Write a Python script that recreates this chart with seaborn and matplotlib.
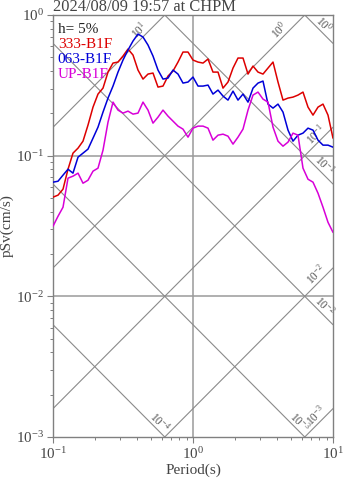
import numpy as np
import pandas as pd
import matplotlib
matplotlib.use("Agg")
import matplotlib.pyplot as plt
from matplotlib.ticker import LogLocator, NullFormatter
import seaborn as sns

# Natural periods (s)
period = [0.100, 0.1086, 0.1179, 0.1280, 0.1389, 0.1509, 0.1638, 0.1778, 0.1931, 0.2096,
          0.2276, 0.2471, 0.2683, 0.2913, 0.3162, 0.3433, 0.3728, 0.4047, 0.4394, 0.4771,
          0.5179, 0.5623, 0.6105, 0.6629, 0.7197, 0.7814, 0.8483, 0.9211, 1.000, 1.086,
          1.179, 1.280, 1.389, 1.509, 1.638, 1.778, 1.931, 2.096, 2.276, 2.471,
          2.683, 2.913, 3.162, 3.433, 3.728, 4.047, 4.394, 4.771, 5.179, 5.623,
          6.105, 6.629, 7.197, 7.814, 8.483, 9.211, 10.00]

# Pseudo velocity response (cm/s), damping 5 %
sv_333 = [0.0507, 0.0524, 0.0578, 0.0801, 0.1042, 0.1131, 0.1268, 0.1649, 0.2214, 0.2741,
          0.3022, 0.3928, 0.4553, 0.4628, 0.5107, 0.5728, 0.5191, 0.4060, 0.3503, 0.3803,
          0.3866, 0.3073, 0.3124, 0.3679, 0.3996, 0.4628, 0.5452, 0.5452, 0.4783, 0.4628,
          0.4553, 0.4862, 0.3928, 0.3928, 0.3022, 0.3337, 0.4196, 0.4943, 0.4943, 0.3803,
          0.4335, 0.3928, 0.3803, 0.4196, 0.4628, 0.3337, 0.2483, 0.2566, 0.2608, 0.2696,
          0.2831, 0.2214, 0.1942, 0.2214, 0.2326, 0.1942, 0.1332]

sv_063 = [0.0648, 0.0658, 0.0727, 0.0801, 0.0751, 0.0976, 0.1042, 0.1113, 0.1332, 0.1595,
          0.2040, 0.2566, 0.3124, 0.3928, 0.4783, 0.5636, 0.6531, 0.7323, 0.6972, 0.6115,
          0.5107, 0.4060, 0.3503, 0.3561, 0.4060, 0.3803, 0.3281, 0.3337, 0.3620, 0.3124,
          0.3124, 0.3175, 0.2741, 0.2925, 0.2652, 0.2483, 0.2877, 0.2483, 0.2741, 0.2403,
          0.3022, 0.3281, 0.3391, 0.2326, 0.2178, 0.2326, 0.2040, 0.1519, 0.1268, 0.1399,
          0.1446, 0.1569, 0.1519, 0.1289, 0.1188, 0.1188, 0.1149]

sv_up = [0.0315, 0.0371, 0.0430, 0.0692, 0.0715, 0.0751, 0.0637, 0.0669, 0.0776, 0.0815,
         0.1094, 0.1731, 0.2403, 0.2108, 0.2007, 0.2073, 0.1974, 0.2007, 0.2403, 0.2108,
         0.1703, 0.1879, 0.2108, 0.1910, 0.1760, 0.1622, 0.1544, 0.1354, 0.1569, 0.1622,
         0.1622, 0.1569, 0.1289, 0.1399, 0.1422, 0.1376, 0.1208, 0.1354, 0.1544, 0.2108,
         0.2696, 0.2831, 0.2524, 0.2403, 0.1595, 0.1268, 0.1168, 0.1248, 0.1446, 0.1399,
         0.0815, 0.0680, 0.0648, 0.0541, 0.0430, 0.0336, 0.0285]

components = ["333-B1F", "063-B1F", "UP-B1F"]
component_colors = ["#dd0000", "#0000d8", "#d800d8"]

# Tripartite reference levels
disp_levels = [1e-4, 1e-3, 1e-2, 1e-1, 1e0]   # displacement (cm)
acc_levels = [1e-3, 1e-2, 1e-1, 1e0, 1e1]     # acceleration (cm/s^2)

title_text = "2024/08/09 19:57 at CHPM"
damping_text = "h= 5%"

sns.set_theme(style="ticks")
plt.rcParams["font.family"] = ["Liberation Serif", "DejaVu Serif"]
plt.rcParams["mathtext.fontset"] = "custom"
plt.rcParams["mathtext.rm"] = "Liberation Serif"
plt.rcParams["mathtext.it"] = "Liberation Serif:italic"
plt.rcParams["mathtext.bf"] = "Liberation Serif:bold"

text_color = "#444444"
frame_color = "#808080"
diag_color = "#8a8a8a"

df = pd.DataFrame({
    "period": period * 3,
    "psv": sv_333 + sv_063 + sv_up,
    "component": np.repeat(components, len(period)),
})

fig = plt.figure(figsize=(3.47, 4.78), dpi=100)
ax = fig.add_axes([53 / 347, 41 / 478, 280 / 347, 422 / 478])
ax.set_xscale("log")
ax.set_yscale("log")
x_min, x_max, y_min, y_max = 0.1, 10.0, 1e-3, 1.0
ax.set_xlim(x_min, x_max)
ax.set_ylim(y_min, y_max)

# grid lines at decades
ax.axvline(1.0, color="#9a9a9a", lw=1.1, zorder=1)
for yv in (0.1, 0.01):
    ax.axhline(yv, color="#9a9a9a", lw=1.1, zorder=1)

two_pi = 2 * np.pi
t_ends = np.array([x_min, x_max])
px_per_decade = 140.0
lab_size = 8.3

# constant displacement lines: Sv = 2*pi*D/T
for d in disp_levels:
    ax.plot(t_ends, two_pi * d / t_ends, color=diag_color, lw=0.8, zorder=1)
    sv_right = two_pi * d / x_max
    if sv_right >= y_min:
        t_lab = x_max * 10 ** (-14 / px_per_decade)
    else:
        t_lab = (two_pi * d / y_min) * 10 ** (-10 / px_per_decade)
    exp = int(round(np.log10(d)))
    ax.text(t_lab, two_pi * d / t_lab, r"$\mathdefault{10^{%d}}$" % exp,
            rotation=-45, rotation_mode="anchor", ha="center", va="bottom",
            fontsize=lab_size, color="#555555", zorder=2)

# constant acceleration lines: Sv = A*T/(2*pi)
for a in acc_levels:
    ax.plot(t_ends, a * t_ends / two_pi, color=diag_color, lw=0.8, zorder=1)
    sv_right = a * x_max / two_pi
    if sv_right <= y_max:
        t_lab = x_max * 10 ** (-12 / px_per_decade)
    else:
        t_lab = (two_pi * y_max / a) * 10 ** (-20 / px_per_decade)
    exp = int(round(np.log10(a)))
    ax.text(t_lab, a * t_lab / two_pi, r"$\mathdefault{10^{%d}}$" % exp,
            rotation=45, rotation_mode="anchor", ha="center", va="bottom",
            fontsize=lab_size, color="#555555", zorder=2)

sns.lineplot(data=df, x="period", y="psv", hue="component", hue_order=components,
             palette=dict(zip(components, component_colors)), estimator=None,
             lw=1.1, legend=False, ax=ax, zorder=3)

# legend block as coloured text
ax.text(0.017, 0.965, damping_text, transform=ax.transAxes, fontsize=11,
        color="#222222", va="center", ha="left")
for i, (name, col) in enumerate(zip(components, component_colors)):
    ax.text(0.017, 0.965 - (i + 1) * 0.0355, name, transform=ax.transAxes,
            fontsize=11, color=col, va="center", ha="left")

ax.set_title(title_text, loc="left", fontsize=11.8, color=text_color, pad=2)
ax.set_xlabel("Period(s)", fontsize=11, color=text_color, labelpad=1)
ax.set_ylabel("pSv(cm/s)", fontsize=11, color=text_color, labelpad=2)

ax.yaxis.set_major_locator(LogLocator(base=10, numticks=10))
ax.yaxis.set_minor_locator(LogLocator(base=10, subs=np.arange(2, 10), numticks=10))
ax.xaxis.set_major_locator(LogLocator(base=10, numticks=10))
ax.xaxis.set_minor_locator(LogLocator(base=10, subs=np.arange(2, 10), numticks=10))
ax.xaxis.set_minor_formatter(NullFormatter())
ax.yaxis.set_minor_formatter(NullFormatter())
ax.tick_params(which="major", direction="out", length=4.5, width=0.8,
               color=frame_color, labelsize=10.8, labelcolor=text_color, pad=2)
ax.tick_params(which="minor", direction="out", length=2.5, width=0.7, color=frame_color)
ax.tick_params(top=False, right=False, which="both")

for side in ("left", "right", "top", "bottom"):
    ax.spines[side].set_visible(True)
    ax.spines[side].set_color(frame_color)
    ax.spines[side].set_linewidth(1.0)

fig.savefig("out.png", dpi=100)
